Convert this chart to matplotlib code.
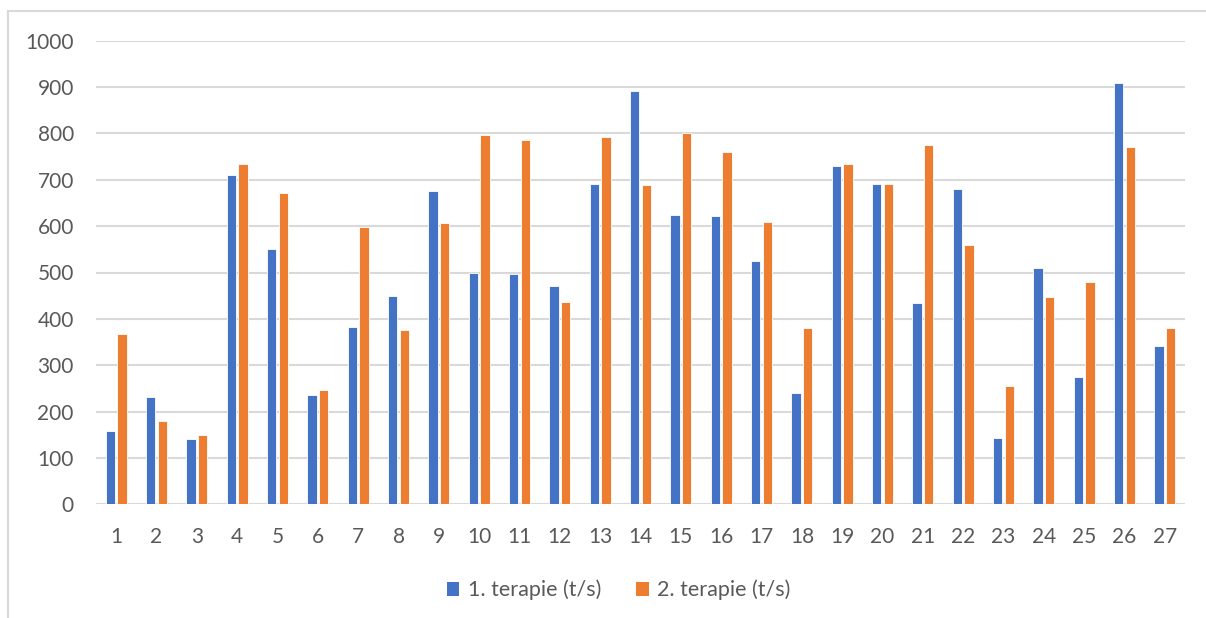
import matplotlib
matplotlib.use("Agg")
import matplotlib.pyplot as plt
from matplotlib.lines import Line2D
from matplotlib.patches import Patch
import numpy as np

plt.rcParams['font.family'] = ['Lato', 'DejaVu Sans']

categories = [str(i) for i in range(1, 28)]
therapy1 = [158, 231, 141, 711, 551, 235, 382, 450, 675, 500, 497, 471, 691, 891,
            624, 622, 524, 239, 730, 691, 435, 680, 143, 510, 274, 909, 341]
therapy2 = [367, 179, 150, 735, 671, 246, 599, 376, 606, 796, 785, 436, 793, 688,
            800, 759, 610, 380, 735, 691, 776, 560, 255, 447, 480, 771, 380]
series_labels = ["1. terapie (t/s)", "2. terapie (t/s)"]
yticks = list(range(0, 1001, 100))

BLUE = "#4472C4"
ORANGE = "#ED7D31"
GRID = "#D9D9D9"
TEXT = "#595959"

W, H = 1206, 618
fig = plt.figure(figsize=(W / 100, H / 100), dpi=100)
ax = fig.add_axes([96 / W, 1 - 504.3 / H, (1185 - 96) / W, (504.3 - 40.7) / H])

x = np.arange(1, len(categories) + 1)
bw = 0.235
off = 0.143
ax.bar(x - off, therapy1, width=bw, color=BLUE, edgecolor="white", linewidth=0.6, zorder=3)
ax.bar(x + off, therapy2, width=bw, color=ORANGE, edgecolor="white", linewidth=0.6, zorder=3)

ax.set_xlim(0.5, len(categories) + 0.5)
ax.set_ylim(0, 1000)
ax.set_yticks(yticks)
ax.set_yticklabels([str(v) for v in yticks])
ax.set_xticks(x)
ax.set_xticklabels(categories)
ax.yaxis.grid(True, color=GRID, linewidth=1.5, zorder=0)
ax.set_axisbelow(True)
for s in ax.spines.values():
    s.set_visible(False)
ax.tick_params(axis='both', length=0, labelsize=15, colors=TEXT)
ax.tick_params(axis='y', pad=16)
ax.tick_params(axis='x', pad=16)

# chart frame
fig.add_artist(Line2D([8 / W, 8 / W], [0, 1 - 11 / H], color=GRID, linewidth=1.5))
fig.add_artist(Line2D([8 / W, 1], [1 - 11 / H, 1 - 11 / H], color=GRID, linewidth=1.5))

handles = [Patch(facecolor=BLUE), Patch(facecolor=ORANGE)]
fig.legend(handles, series_labels, loc="center", bbox_to_anchor=(0.513, 1 - 590 / H),
           ncol=2, frameon=False, fontsize=15.5, labelcolor=TEXT,
           handlelength=0.6, handleheight=0.6, handletextpad=0.4, columnspacing=1.6)

fig.savefig("out.png", dpi=100)
